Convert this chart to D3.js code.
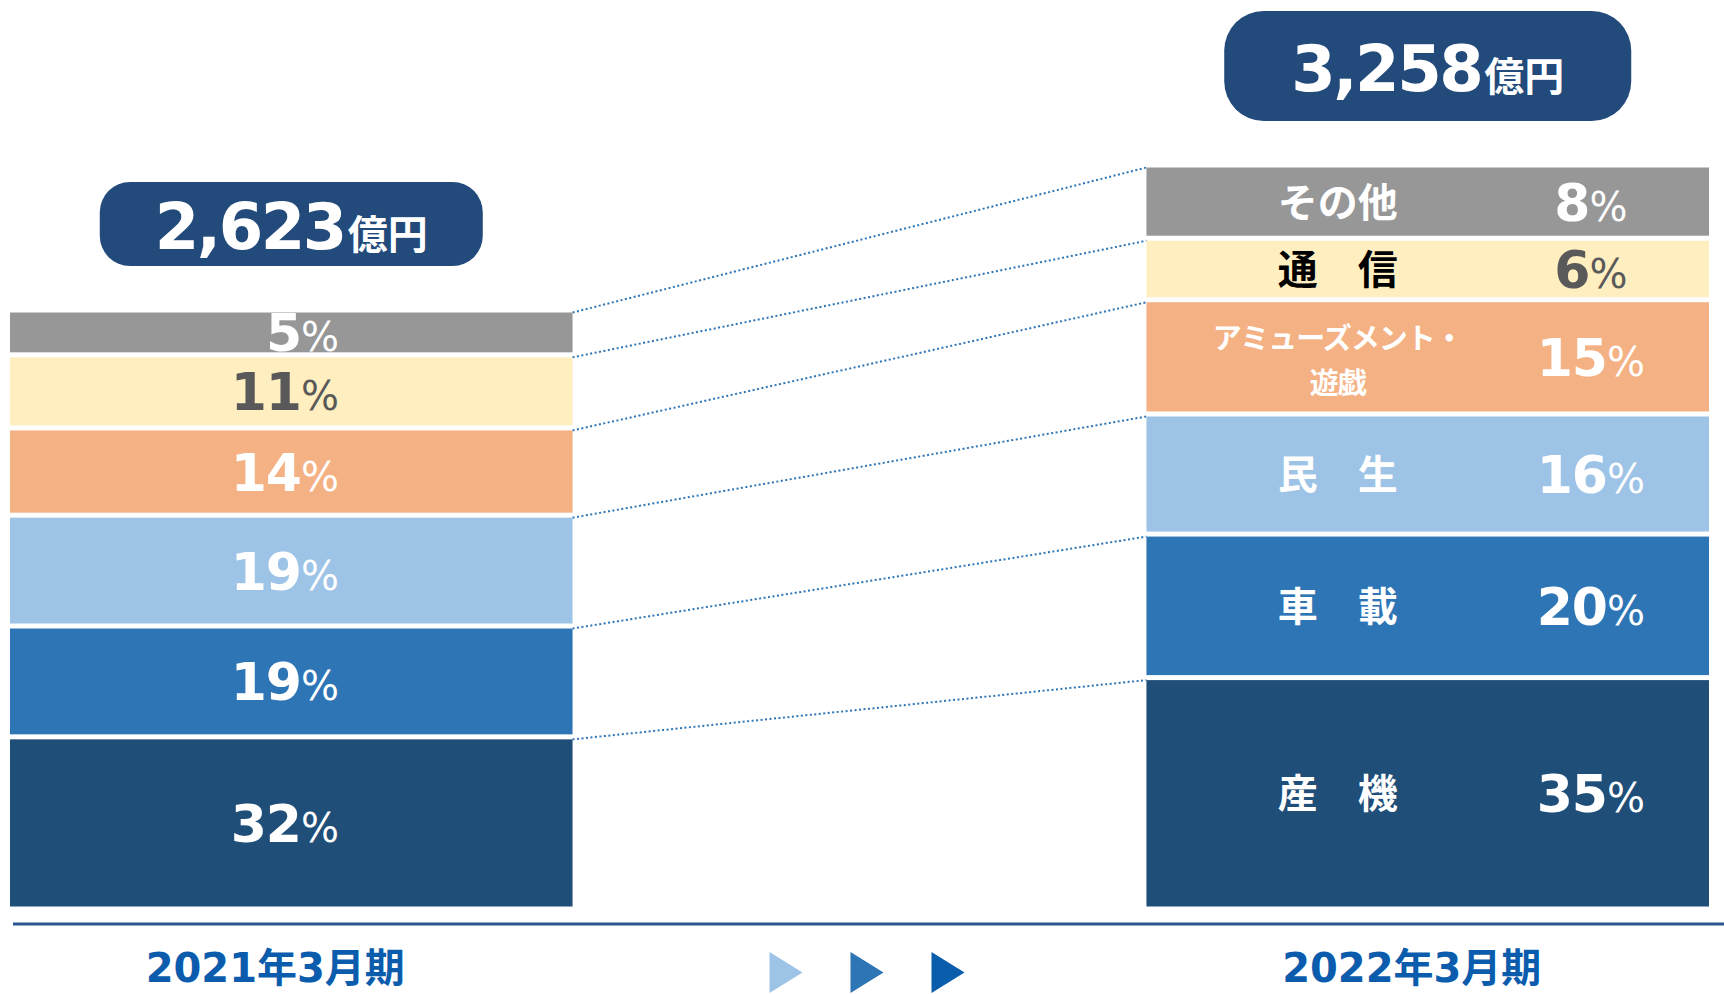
<!DOCTYPE html>
<html><head><meta charset="utf-8">
<script src="https://cdn.jsdelivr.net/npm/d3@7"></script>
<style>html,body{margin:0;padding:0;background:#fff;} svg{display:block}</style>
</head><body><svg id="chart" width="1724" height="994"></svg>
<script>
// ---------------- data ----------------
const periods = ["2021年3月期", "2022年3月期"];
const totals = [2623, 3258];                 // 億円
const totalLabels = ["2,623", "3,258"];
// segments listed bottom -> top
const segments = ["産機", "車載", "民生", "アミューズメント・遊戯", "通信", "その他"];
const segmentLabelLines = [["産　機"], ["車　載"], ["民　生"], ["アミューズメント・", "遊戯"], ["通　信"], ["その他"]];
const share2021 = [32, 19, 19, 14, 11, 5];   // %
const share2022 = [35, 20, 16, 15, 6, 8];    // %
const segmentColors = ["#1f4e79", "#2e75b6", "#9dc3e6", "#f4b183", "#ffeec0", "#979797"];
const pctColors = ["#ffffff", "#ffffff", "#ffffff", "#ffffff", "#595959", "#ffffff"];
const nameColors = ["#ffffff", "#ffffff", "#ffffff", "#ffffff", "#000000", "#ffffff"];
const arrowColors = ["#9dc3e6", "#2e75b6", "#0a5dab"];

// ---------------- layout ----------------
const W = 1724, H = 994;
const baseY = 909, topY = 165;
const gap = 5;
const padShare = 4.5;   // extra room per segment so labels fit (as in the original slide)
const numFont = "'DejaVu Sans', 'Noto Sans CJK JP', sans-serif";
const jpFont = "'Noto Sans CJK JP', 'Noto Sans CJK SC', sans-serif";

const svg = d3.select("#chart");

const x = d3.scaleBand().domain(periods).range([10, 1709]).paddingInner(0.505);
const bw = x.bandwidth();
const y = d3.scaleLinear().domain([0, d3.max(totals)]).range([baseY, topY]);

const shares = [share2021, share2022];
const stacks = periods.map((p, pi) => {
  const inner = d3.scaleLinear()
    .domain([0, d3.sum(shares[pi]) + padShare * segments.length])
    .range([baseY, y(totals[pi])]);
  let cum = 0;
  return segments.map((s, si) => {
    const v = shares[pi][si] + padShare;
    const d = { period: p, pi, si, seg: s, share: shares[pi][si], top: inner(cum + v), bottom: inner(cum) };
    cum += v;
    return d;
  });
});

// dotted connectors (top edge of each segment)
const connectors = segments.map((s, si) => ({ a: stacks[0][si], b: stacks[1][si] }));
svg.append("g").selectAll("line").data(connectors).join("line")
  .attr("x1", d => x(periods[0]) + bw)
  .attr("y1", d => d.a.top + gap / 2)
  .attr("x2", d => x(periods[1]))
  .attr("y2", d => d.b.top + gap / 2)
  .attr("stroke", "#2e75b6")
  .attr("stroke-width", 2)
  .attr("stroke-dasharray", "2 2.5");

// bars
const gBars = svg.append("g");
stacks.forEach(stack => {
  gBars.selectAll(null).data(stack).join("rect")
    .attr("x", d => x(d.period))
    .attr("y", d => d.top + gap / 2)
    .attr("width", bw)
    .attr("height", d => Math.max(0, d.bottom - d.top - gap))
    .attr("fill", d => segmentColors[d.si]);
});

function pctText(g, d, xPos, anchor, yPos, color) {
  const t = g.append("text")
    .attr("x", xPos).attr("y", yPos)
    .attr("text-anchor", anchor)
    .attr("fill", color)
    .attr("font-family", numFont);
  t.append("tspan").attr("font-size", 52).attr("font-weight", 700).attr("letter-spacing", -1).text(d.share);
  t.append("tspan").attr("font-size", 40).attr("font-weight", 400).text("%");
}

// left labels (percent only)
const gLab = svg.append("g");
stacks[0].forEach(d => {
  const cy = (d.top + d.bottom) / 2;
  pctText(gLab, d, x(d.period) + bw * 0.585, "end", cy + 19, pctColors[d.si]);
});

// right labels (segment name + percent)
stacks[1].forEach(d => {
  const cy = (d.top + d.bottom) / 2;
  const lines = segmentLabelLines[d.si];
  const nx = x(d.period) + bw * 0.34;
  if (lines.length === 1) {
    gLab.append("text")
      .attr("x", nx).attr("y", cy + 15)
      .attr("text-anchor", "middle")
      .attr("font-family", jpFont).attr("font-weight", 700).attr("font-size", 40)
      .attr("fill", nameColors[d.si])
      .text(lines[0]);
  } else {
    lines.forEach((ln, li) => {
      gLab.append("text")
        .attr("x", nx).attr("y", cy - 8 + li * 45)
        .attr("text-anchor", "middle")
        .attr("font-family", jpFont).attr("font-weight", 700).attr("font-size", 29)
        .attr("letter-spacing", -1)
        .attr("fill", nameColors[d.si])
        .text(ln);
    });
  }
  pctText(gLab, d, x(d.period) + bw * 0.79, "middle", cy + 19, pctColors[d.si]);
});

// total boxes
const boxW = [383, 407], boxH = [84, 110];
const gBox = svg.append("g");
periods.forEach((p, pi) => {
  const cx = x(p) + bw / 2;
  const bottom = y(totals[pi]) - 44;
  const top = bottom - boxH[pi];
  gBox.append("rect")
    .attr("x", cx - boxW[pi] / 2).attr("y", top)
    .attr("width", boxW[pi]).attr("height", boxH[pi])
    .attr("rx", boxH[pi] * 0.36)
    .attr("fill", "#224a7b");
  const t = gBox.append("text")
    .attr("x", cx).attr("y", (top + bottom) / 2 + 25)
    .attr("text-anchor", "middle").attr("fill", "#ffffff").attr("font-weight", 700);
  t.append("tspan").attr("font-family", numFont).attr("font-size", 64).attr("letter-spacing", -2.5).text(totalLabels[pi]);
  t.append("tspan").attr("font-family", jpFont).attr("font-size", 40).attr("dx", 3).text("億円");
});

// baseline axis
const xAxis = d3.axisBottom(x).tickSize(0).tickPadding(0);
const gAxis = svg.append("g").attr("transform", `translate(0,${baseY + 15})`).call(xAxis);
gAxis.select(".domain").attr("d", `M13,0H${W}`).attr("stroke", "#2b5592").attr("stroke-width", 3);
gAxis.selectAll(".tick text")
  .attr("dx", -16)
  .attr("y", 58)
  .attr("dy", 0)
  .attr("font-family", numFont).attr("font-weight", 700).attr("font-size", 40)
  .attr("fill", "#0b5cad");

// progression arrows
const midX = (x(periods[0]) + bw + x(periods[1])) / 2;
svg.append("g").selectAll("path").data(arrowColors).join("path")
  .attr("transform", (c, i) => `translate(${midX - 90 + i * 81},952)`)
  .attr("d", "M0,0L33,20.5L0,41Z")
  .attr("fill", c => c);
</script></body></html>
